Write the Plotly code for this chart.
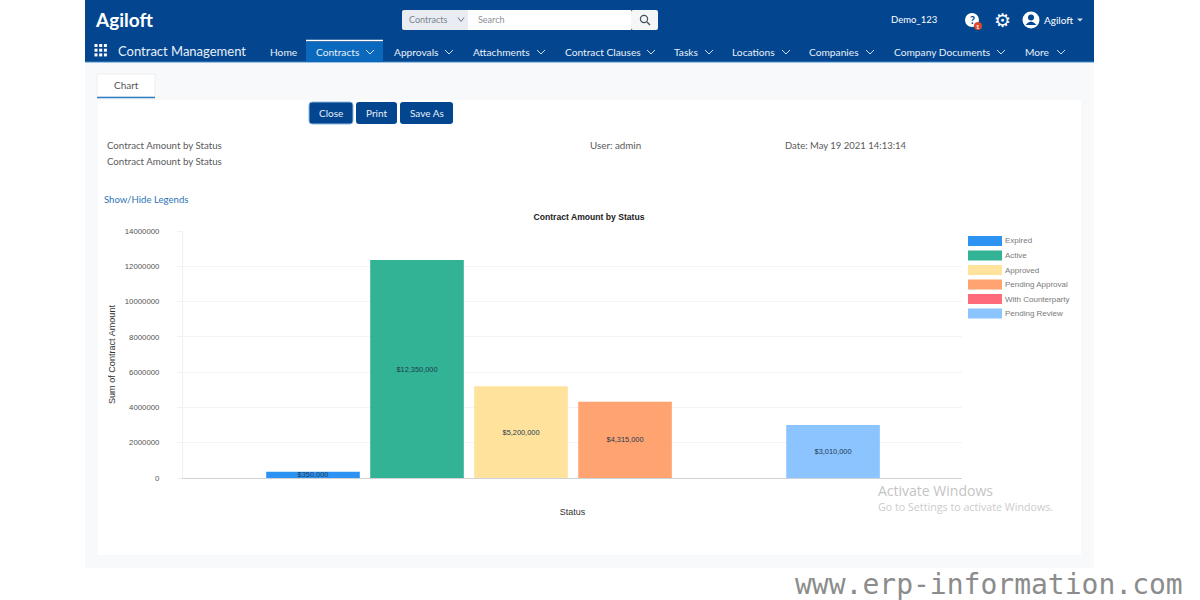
import pandas as pd
import plotly.graph_objects as go

W, H = 1200, 600
UI_FONT = 'Lato'
CHART_FONT = 'Liberation Sans'
NAVY = '#03468f'

# Contract amount by status
df = pd.DataFrame({
    'status': ['Expired', 'Active', 'Approved', 'Pending Approval', 'With Counterparty', 'Pending Review'],
    'amount': [350000, 12350000, 5200000, 4315000, 0, 3010000],
    'color': ['#2d93f3', '#33b395', '#ffe29b', '#ffa470', '#ff6b7b', '#8cc4ff'],
})
df['label'] = ['${:,}'.format(v) if v else '' for v in df['amount']]

shapes = []
annotations = []


# Page pixels to paper coordinates
def px(x):
    return x / W


def py(y):
    return 1 - y / H


def rect(x0, y0, x1, y1, fill, line=None, width=1):
    shapes.append(dict(type='rect', xref='paper', yref='paper', layer='below',
                       x0=px(x0), x1=px(x1), y0=py(y0), y1=py(y1), fillcolor=fill,
                       line=dict(color=line or fill, width=width if line else 0)))


def round_rect(x0, y0, x1, y1, r, fill, line=None, width=1):
    pts = (f'M{px(x0 + r)},{py(y0)} L{px(x1 - r)},{py(y0)} Q{px(x1)},{py(y0)} {px(x1)},{py(y0 + r)} '
           f'L{px(x1)},{py(y1 - r)} Q{px(x1)},{py(y1)} {px(x1 - r)},{py(y1)} '
           f'L{px(x0 + r)},{py(y1)} Q{px(x0)},{py(y1)} {px(x0)},{py(y1 - r)} '
           f'L{px(x0)},{py(y0 + r)} Q{px(x0)},{py(y0)} {px(x0 + r)},{py(y0)} Z')
    shapes.append(dict(type='path', xref='paper', yref='paper', layer='below', path=pts, fillcolor=fill,
                       line=dict(color=line or fill, width=width if line else 0)))


def circle(cx, cy, r, fill, line=None, width=1):
    shapes.append(dict(type='circle', xref='paper', yref='paper', layer='below',
                       x0=px(cx - r), x1=px(cx + r), y0=py(cy - r), y1=py(cy + r), fillcolor=fill,
                       line=dict(color=line or fill, width=width if line else 0)))


def seg(points, color, width=1):
    path = 'M' + ' L'.join(f'{px(x):.5f},{py(y):.5f}' for x, y in points)
    shapes.append(dict(type='path', xref='paper', yref='paper', layer='below', path=path,
                       line=dict(color=color, width=width)))


def chevron(x, y, color='#cfe0f2', size=4):
    seg([(x - size, y - 2), (x, y + 2), (x + size, y - 2)], color, 1)


def text(x, y, s, size=10, color='#555555', anchor='left', font=UI_FONT, **kw):
    # annotations sit about 1px in from their anchor
    if anchor == 'left':
        x -= 1
    annotations.append(dict(xref='paper', yref='paper', x=px(x), y=py(y), text=s, showarrow=False,
                            xanchor=anchor, yanchor='middle', borderpad=0,
                            font=dict(family=font, size=size, color=color), **kw))


# Page background and cards
rect(85, 0, 1094, 568, '#f8f9fb')
rect(98, 100, 1081, 555, '#ffffff')

# Header
rect(85, 0, 1094, 62, NAVY)
seg([(85, 62), (1094, 62)], '#3f87c9', 1)
rect(306, 42, 383, 62, '#0a68bd')
seg([(306, 40.5), (383, 40.5)], '#ffffff', 1.5)
text(95, 20, '<b>Agiloft</b>', size=19, color='#ffffff')

# Search box
round_rect(402, 10, 470, 30, 2, '#e9ecf2')
rect(468, 10, 631, 30, '#ffffff')
round_rect(631, 10, 658, 30, 2, '#f5f6f8')
text(409, 20, 'Contracts', size=9, color='#7b8490')
chevron(461, 19.5, '#6b7480', 3)
text(478, 20, 'Search', size=9, color='#8a8f96')
circle(644, 19, 3.6, 'rgba(0,0,0,0)', '#44505c', 1.2)
seg([(647, 22), (650, 25)], '#44505c', 1.4)

# User area
text(891, 20, 'Demo_123', size=9.5, color='#ffffff')
circle(972, 20, 7, '#ffffff')
text(972, 20, '<b>?</b>', size=11, color=NAVY, anchor='center')
circle(978, 26, 4, '#d9482b')
text(978, 26, '<b>1</b>', size=6, color='#ffffff', anchor='center')
text(1002, 20, '⚙', size=19, color='#ffffff', anchor='center', font='DejaVu Sans')
circle(1031, 20, 8.5, '#ffffff')
circle(1031, 17.5, 3, NAVY)
shapes.append(dict(type='path', xref='paper', yref='paper', layer='below', fillcolor=NAVY, line=dict(width=0),
                   path=f'M{px(1025.5)},{py(25)} Q{px(1031)},{py(18)} {px(1036.5)},{py(25)} Z'))
text(1044, 20, 'Agiloft', size=10, color='#ffffff')
shapes.append(dict(type='path', xref='paper', yref='paper', layer='below', fillcolor='#cfe0f2', line=dict(width=0),
                   path=f'M{px(1077)},{py(18.5)} L{px(1083)},{py(18.5)} L{px(1080)},{py(21.5)} Z'))

# Nav bar
for row in range(3):
    for col in range(3):
        rect(94.5 + col * 4.7, 44 + row * 4.7, 97.5 + col * 4.7, 47 + row * 4.7, '#ffffff')
text(118, 51, 'Contract Management', size=13, color='#e8f0f8')
nav = [('Home', 270, None), ('Contracts', 316, 370), ('Approvals', 394, 449), ('Attachments', 473, 541),
       ('Contract Clauses', 565, 651), ('Tasks', 674, 709), ('Locations', 732, 786), ('Companies', 809, 870),
       ('Company Documents', 894, 1001), ('More', 1025, 1061)]
for name, x, chev in nav:
    text(x, 52, name, size=10.2, color='#e8f0f8')
    if chev:
        chevron(chev, 52)

# Tab and buttons
rect(97, 74, 155, 97, '#ffffff', '#eceef1', 1)
seg([(97, 97.5), (155, 97.5)], '#2f7fc1', 1.5)
text(126, 85, 'Chart', size=10, color='#555555', anchor='center')
for label, x0, x1 in [('Close', 309, 353), ('Print', 356, 397), ('Save As', 400, 453)]:
    round_rect(x0, 102, x1, 124, 3, NAVY, '#8db8e2' if label == 'Close' else None, 1)
    text((x0 + x1) / 2, 113, label, size=10, color='#e8f0f8', anchor='center')

# Report header
text(107, 145, 'Contract Amount by Status', size=9.7, color='#5a5a5a')
text(107, 161, 'Contract Amount by Status', size=9.7, color='#5a5a5a')
text(590, 145, 'User: admin', size=9.8, color='#5a5a5a')
text(785, 145, 'Date: May 19 2021 14:13:14', size=9.5, color='#5a5a5a')
text(104, 200, 'Show/Hide Legends', size=9.6, color='#2e75b6')

# Legend, one entry per status
for i, row in df.iterrows():
    y = 241 + i * 14.5
    rect(968, y - 5, 1002, y + 5, row['color'])
    text(1005, y, row['status'], size=8, color='#7a7a7a', font=CHART_FONT)

# Overlay texts
text(878, 490, 'Activate Windows', size=14, color='#c4c4c4', font='Open Sans')
text(878, 507, 'Go to Settings to activate Windows.', size=10.7, color='#cccccc', font='Open Sans')
text(795, 584, 'www.erp-information.com', size=28, color='#8c8c8c', font='DejaVu Sans Mono')

# Chart
fig = go.Figure()
fig.add_trace(go.Bar(
    x=df['status'],
    y=df['amount'],
    width=0.9,
    marker=dict(color=df['color'], line=dict(width=0)),
    text=df['label'],
    textposition='inside',
    insidetextanchor='middle',
    textangle=0,
    constraintext='none',
    textfont=dict(family=CHART_FONT, size=7.4, color='#1d3a52'),
))

fig.update_layout(
    width=W,
    height=H,
    autosize=False,
    margin=dict(l=0, r=0, t=0, b=0, autoexpand=False),
    paper_bgcolor='#ffffff',
    plot_bgcolor='rgba(0,0,0,0)',
    showlegend=False,
    shapes=shapes,
    annotations=annotations,
    title=dict(text='<b>Contract Amount by Status</b>', x=589 / W, y=1 - 217 / H, xanchor='center', yanchor='middle',
               font=dict(family=CHART_FONT, size=8.6, color='#222222')),
    xaxis=dict(
        domain=[183 / W, 962 / W],
        range=[-1.25, 6.24],
        showticklabels=False,
        showgrid=False,
        ticks='',
        showline=True,
        linecolor='#cfd3d6',
        zeroline=False,
        title=dict(text='Status', standoff=30, font=dict(family=CHART_FONT, size=9, color='#333333')),
    ),
    yaxis=dict(
        domain=[1 - 478 / H, 1 - 231 / H],
        range=[0, 14000000],
        tickmode='array',
        tickvals=list(range(0, 14000001, 2000000)),
        tickformat='d',
        ticks='outside',
        ticklen=5,
        tickcolor='#f0f1f2',
        ticklabelstandoff=16,
        tickfont=dict(family=CHART_FONT, size=7.8, color='#555555'),
        gridcolor='#f3f4f5',
        gridwidth=1,
        showline=True,
        linecolor='#f0f1f2',
        zeroline=False,
        title=dict(text='Sum of Contract Amount', standoff=7, font=dict(family=CHART_FONT, size=9.1, color='#333333')),
    ),
)

# Page is photographed edge to edge, drop the default body margin
fig.write_html("out.html", config={'displayModeBar': False}, post_script="document.body.style.margin = '0';")
